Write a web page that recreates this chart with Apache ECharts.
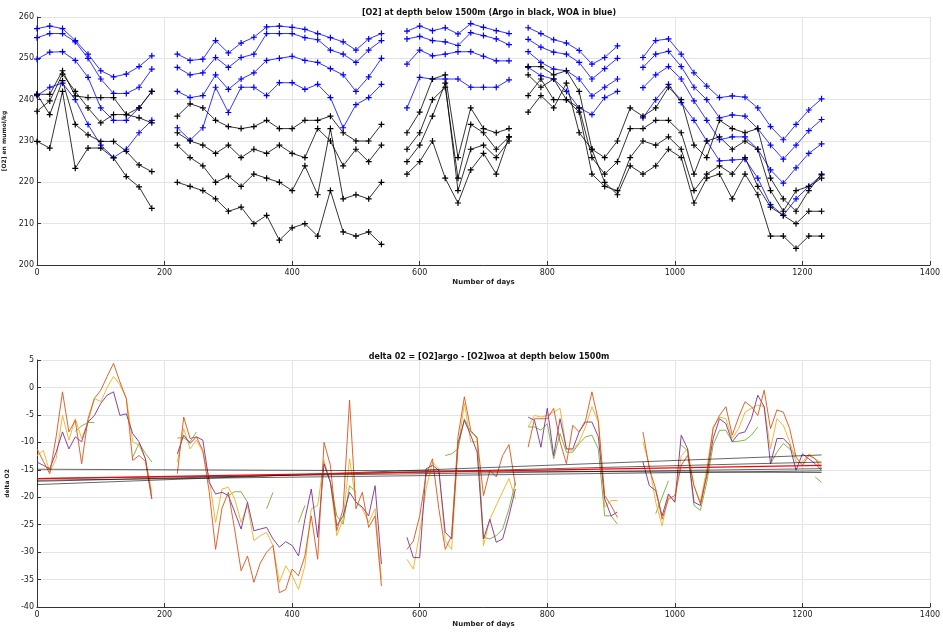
<!DOCTYPE html>
<html>
<head>
<meta charset="utf-8">
<script src="https://cdn.jsdelivr.net/npm/echarts@6/dist/echarts.min.js"></script>
<style>html,body{margin:0;padding:0;background:#fff}#chart{width:943px;height:632px}</style>
</head>
<body>
<div id="chart"></div>
<script>
// top panel: days (null = gap), WOA (blue) and Argo (black) oxygen
const topDays = [0,20,40,60,80,100,120,140,160,180, 200,
  220,240,260,280,300,320,340,360,380,400,420,440,460,480,500,520,540, 560,
  580,600,620,640,660,680,700,720,740, 760,
  770,790,810,830,850,870,890,910,
  930,950,970,990,1010,1030,1050,1070,1090,1110,1130,1150,1170,1190,1210,1230];

const woa1 = [257.2,257.8,257.2,254.3,251,247,245.5,246.2,248,250.6, null,
  251,249.5,249.8,254.3,251.3,253.7,255.1,257.6,257.8,257.5,257,256,255,254,252,254.7,256, null,
  256.6,257.8,256.7,257.4,255.9,258.4,257.5,256.7,256, null,
  257.4,256,254.5,253.7,251.9,248.6,250.2,253,
  null,250.2,254.3,254.7,251,246.5,243.3,240.5,240.9,240.6,238,233.5,230.3,234,237.5,240.2];
const woa2 = [255,256,256,254,250,245,241.5,241.5,243,247.4, null,
  247.8,246,246.5,250.2,247.8,250.2,251,256,256,256,255,254.5,252,251,249,252,254.3, null,
  254.7,255.3,254.3,254,253.1,256.2,255.5,254.7,253.3, null,
  254.6,252.7,251.5,251,249,245,247.5,250,
  null,247.8,251,251.7,248,243,240,235.6,236.3,236,233,229,225.6,229,232.5,235.2];
const woa3 = [249.8,251.5,251.6,249.5,245.4,238,235,235,238,242, null,
  242,240.5,241,246,242.5,245,246.5,249.5,250,250.5,249.5,249,247.5,246,242,245.5,250, null,
  248.6,252,250.6,251,251.6,251.6,250.5,249.4,249.4, null,
  251.6,249,247.4,247,245,240.9,243,245,
  null,242.9,246,248,245,239.7,235,230.3,231,231,228,223,219.8,223.5,227,229.3];
const woa4 = [241,243,244,240,234,229,226,228,232,235, null,
  233.2,230.2,233.2,243,236.9,243,243,241,244.1,244.1,242.5,243.7,240.5,233.2,238.8,240.5,243.7, null,
  238,245.4,245,245,245,243,243,243,244.8, null,
  247.8,245.8,245,242,238,236.4,240.5,242,
  null,235.6,240,243.7,239.3,235,230,225.2,225.4,225.6,221,214.6,212,216,219,221.8];

const argo1 = [241.3,241.3,247,240.9,240.5,240.5,240.5,236.4,238,242, null,
  236,239,238,235,233.5,233,233.5,235,233,233,235,235,236,232,230,230,234, null,
  232,237,245,246,226,238,233,232,233, null,
  248,248,246,247,242,228,226,230,
  238,236,238,243,240,229,226,235,233,232,233,221,216,213,218,222];
const argo2 = [237.2,239.7,246.2,242,238,234.4,236.4,236.4,235.6,234.4, null,
  232,230,229,227,229,226,228,227,229,227,226,233,230,224,228,225,229, null,
  228,232,240,243,221,234,232,228,231, null,
  246,243,245,240,238,226,222,225,
  233,233,235,235,232,222,230,231,228,230,228,218,213,218,219,221];
const argo3 = [241.3,236.4,244.6,234,231.5,229.9,229.9,227.5,224.2,222.6, null,
  229,226,224,220,221.5,219,222,221,220,218,224,217,233,216,217,216,220, null,
  225,229,236,244,218,228,229,226,230, null,
  241,245,240,240,237,222,219,218,
  226,230,229,231,228,218,222,224,222,226,219,214,212,210,213,213];
const argo4 = [229.9,228.3,242,223.4,228.3,228.3,225.9,221.4,218.9,213.7, null,
  220,219,218,216,213,214,210,212,206,209,210,207,218,208,207,208,205, null,
  222,225,230,221,215,223,227,222,231, null,
  237,241,238,244,232,228,220,217,
  224,222,224,228,226,215,221,222,216,222,217,207,207,204,207,207];

// bottom panel: delta O2 every 10 days, null = gap
const deltaDays = [];
for (let d = 0; d <= 1230; d += 10) deltaDays.push(d);

const dOrange = [-11.2,-13.5,-15.7,-9,-0.8,-8.1,-6,-13.9,-5.7,-2,-0.5,2,4.4,1,-2,-13.3,-12.4,-13.5,-20.3,
  null,null,null,
  -15.7,-5.4,-9.3,-9,-11.5,-19,-29.5,-22,-19.1,-26,-33.4,-30.7,-35.5,-32,-30,-28.8,-37.4,-36.8,-33.1,-34.3,-30.7,-23.4,-31.3,-10,-14.2,-26.1,-22.1,-2.3,-22.1,-19.1,-25.5,-23.4,-36.2,
  null,null,null,
  -29.5,-28,-23.4,-16,-13,-22.1,-29.5,-27,-9,-1.7,-7.8,-9.3,-19.7,-15.1,-16.3,-12.4,-10.4,-17.9,
  null,
  -10.9,-5.7,-5.7,-5.7,-3.8,-9.9,-13.9,-6.9,-8.1,-6,-0.8,-6,-19.7,-21.5,-23.7,
  null,null,null,
  -8.1,-14.8,-18.5,-24,-20.3,-19.7,-14.2,-12.4,-17.9,-21.2,-16,-7.5,-5.1,-3.5,-8.7,-5.4,-2.6,-3.5,-5.1,-0.5,-7.5,-4.1,-4.5,-7.5,-12.7,-14.2,-12.4,-13,-14.8];
const dYellow = [-12.4,-11.5,-15.4,-13,-5.1,-9.6,-5.7,-9.3,-6.3,-2,-2.6,0,2,0.5,-2,-9.9,-10.5,-13,-19.1,
  null,null,null,
  -13.6,-7.5,-11.2,-9.6,-11.8,-16.6,-24.6,-18.5,-18.2,-20.3,-24.6,-21.5,-27.9,-27,-26.4,-28.8,-35.5,-32.5,-34.3,-36.8,-32.5,-22.1,-21.5,-13.3,-17.3,-27,-24,-13,-20.9,-22.1,-24.6,-22.1,-34.9,
  null,null,null,
  -31.3,-33.1,-26.4,-18.5,-13.6,-14.8,-27.9,-29.5,-11.2,-2.9,-9.9,-9.9,-28.8,-24,-21.5,-19,-16.6,-20.3,
  null,
  -7.2,-5.1,-5.4,-5.1,-4.5,-3.8,-11.2,-11.5,-9.9,-7.2,-3.5,-6.3,-21.8,-20.6,-20.6,
  null,null,null,
  -9.9,-14.2,-20.9,-25.2,-19.7,-20.9,-12.4,-11.2,-17.9,-20.9,-14.8,-7.2,-5.4,-5.7,-9.3,-7.5,-4.5,-3.8,-3.2,-3.5,-11.2,-5.7,-6.9,-9.9,-13.6,-13.6,-12.1,-13,-13.9];
const dPurple = [-13.6,-14.2,-14.8,-11.8,-8.1,-11.2,-9,-9.9,-6.3,-5.1,-2.9,-1.4,-0.8,-5.1,-4.8,-8.4,-9.9,-13,-20.3,
  null,null,null,
  -12.1,-8.7,-10.2,-9,-9.6,-17.3,-19.4,-19.1,-19.7,-22.7,-25.8,-20.9,-26.1,-25.8,-25.5,-27.6,-29.1,-28.1,-28.8,-30.7,-24,-18.5,-27.3,-13.9,-17.3,-25.2,-23.4,-19.1,-20.9,-21.8,-23.4,-17.9,-32.2,
  null,null,null,
  -27.3,-31,-31,-14.8,-14.2,-15.1,-26.4,-27.6,-10.2,-6,-8.7,-11.8,-27.6,-24,-28.2,-27.6,-23.4,-18.5,
  null,
  -5.4,-6,-10.9,-3.8,-12.4,-5.7,-11.2,-11.2,-8.1,-6.3,-6.3,-9,-20.3,-23.4,-22.7,
  null,null,null,
  -13.6,-17.9,-18.8,-23.4,-19.4,-20.9,-8.7,-11.2,-20.9,-21.5,-16,-9.3,-5.7,-6.6,-9.9,-8.4,-8.1,-5.7,-1.4,-3.5,-13.9,-9.3,-9.3,-10.5,-15.1,-12.1,-13,-13.9,-15.1];
const dGreen = [null,null,null,null,null,null,-8,-7,-6.4,-6.4,null,null,null,null,null,-12.7,-10.2,-12,-13.6,
  null,null,null,
  -9.2,-9.2,-9.9,-8.1,null,null,null,null,-19.7,-19,-19,-20.9,null,null,-22.1,-19.1,null,null,null,-24.6,-21.5,null,null,-13.9,-17.3,-23.4,-24.9,-17.9,-19.1,null,null,null,null,
  null,null,null,
  null,null,null,null,null,null,-12.4,-12.1,-11.2,-5.7,-8.1,-9,-27.3,-27.6,-27,-25.8,-22.1,-17.3,
  null,
  -7.2,-7.2,-7.8,-6.6,-13,-8.4,-11.8,-11.8,-10.2,-9,-8.7,-11.2,-23.4,-23.4,-24.9,
  null,null,null,
  null,null,-23,-20,-17,null,-10.5,-11.5,-21.5,-22.4,-17.3,-10.5,-7.8,-7.8,-9.9,-9.8,-9.6,-8.7,-7.2,null,-13.9,-11.8,-10.2,-11.2,-12.4,null,null,-16.3,-17.3];

// linear fits: value at first and last day
const fitDays = [0, 1230];
const fitBlack = [[-14.9,-15.5],[-16.6,-14.8],[-16.9,-15.2],[-17.1,-13.6],[-17.7,-12.3]];
const fitRed = [-16.6, -14.2];

const plus = 'path://M4,0H6V4H10V6H6V10H4V6H0V4H4Z';
const pair = (xs, ys) => xs.map((x, i) => [x, ys[i]]);

function topLine(vals, color) {
  return { type: 'line', data: pair(topDays, vals), xAxisIndex: 0, yAxisIndex: 0,
    symbol: plus, symbolSize: 6, showSymbol: true, connectNulls: false,
    lineStyle: { color: color, width: 0.8 }, itemStyle: { color: color }, animation: false };
}
function deltaLine(pts, color, width) {
  return { type: 'line', data: pts, xAxisIndex: 1, yAxisIndex: 1,
    symbol: 'none', connectNulls: false, lineStyle: { color: color, width: width || 0.9 }, animation: false };
}

const axisFont = { fontFamily: 'DejaVu Sans', fontSize: 8, color: '#222' };
function xAx(idx) {
  return { type: 'value', gridIndex: idx, min: 0, max: 1400, interval: 200,
    name: 'Number of days', nameLocation: 'middle', nameGap: 14,
    nameTextStyle: { fontFamily: 'DejaVu Sans', fontSize: 7, fontWeight: 'bold', color: '#222' },
    axisLabel: Object.assign({ margin: 4, formatter: v => String(v) }, axisFont),
    axisLine: { onZero: false, lineStyle: { color: '#333', width: 1 } },
    axisTick: { inside: true, length: 4, lineStyle: { color: '#333' } },
    splitLine: { lineStyle: { color: '#e4e4e4' } } };
}
function yAx(idx, min, max, interval, name) {
  return { type: 'value', gridIndex: idx, min: min, max: max, interval: interval,
    name: name, nameLocation: 'middle', nameGap: 18,
    nameTextStyle: { fontFamily: 'DejaVu Sans', fontSize: 6, fontWeight: 'bold', color: '#222' },
    axisLabel: Object.assign({ margin: 3 }, axisFont),
    axisLine: { show: true, onZero: false, lineStyle: { color: '#333', width: 1 } },
    axisTick: { inside: true, length: 4, lineStyle: { color: '#333' } },
    splitLine: { lineStyle: { color: '#e4e4e4' } } };
}

const series = [
  topLine(woa1, '#0000ff'), topLine(woa2, '#0000ff'), topLine(woa3, '#0000ff'), topLine(woa4, '#0000ff'),
  topLine(argo1, '#000'), topLine(argo2, '#000'), topLine(argo3, '#000'), topLine(argo4, '#000'),
  deltaLine(pair(deltaDays, dGreen), '#77ac30'), deltaLine(pair(deltaDays, dYellow), '#edb120'),
  deltaLine(pair(deltaDays, dPurple), '#7e2f8e'), deltaLine(pair(deltaDays, dOrange), '#d95319')
];
fitBlack.forEach(f => series.push(deltaLine(pair(fitDays, f), 'rgba(0,0,0,0.75)', 0.8)));
series.push(deltaLine(pair(fitDays, fitRed), '#ff0000', 1.2));

const chart = echarts.init(document.getElementById('chart'), null, { renderer: 'canvas' });
chart.setOption({
  backgroundColor: '#fff',
  animation: false,
  title: [
    { text: '[O2] at depth below 1500m (Argo in black, WOA in blue)', left: 484, textAlign: 'center', top: 4,
      textStyle: { fontFamily: 'DejaVu Sans', fontSize: 8, fontWeight: 'bold', color: '#111' } },
    { text: 'delta 02 = [O2]argo - [O2]woa at depth below 1500m', left: 484, textAlign: 'center', top: 348,
      textStyle: { fontFamily: 'DejaVu Sans', fontSize: 8, fontWeight: 'bold', color: '#111' } }
  ],
  grid: [
    { left: 37, right: 13, top: 17, height: 248, containLabel: false, outerBoundsMode: 'none' },
    { left: 37, right: 13, top: 360, height: 247, containLabel: false, outerBoundsMode: 'none' }
  ],
  xAxis: [xAx(0), xAx(1)],
  yAxis: [yAx(0, 200, 260, 10, '[O2] en mumol/kg'), yAx(1, -40, 5, 5, 'delta O2')],
  series: series
});
</script>
</body>
</html>
